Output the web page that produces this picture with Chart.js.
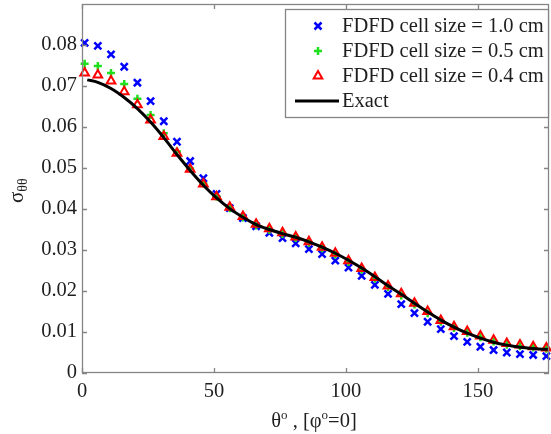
<!DOCTYPE html>
<html>
<head>
<meta charset="utf-8">
<script src="https://cdn.jsdelivr.net/npm/chart.js@4.4.0/dist/chart.umd.min.js"></script>
<style>
  html, body { margin: 0; padding: 0; background: #fff; }
</style>
</head>
<body>
<canvas id="sigmaChart" width="551" height="434"></canvas>
<script>
// углы, где взяты отсчёты FDFD (град)
const thetaFdfd = [1, 6, 11, 16, 21, 26, 31, 36, 41, 46, 51, 56, 61, 66, 71, 76, 81, 86,
                   91, 96, 101, 106, 111, 116, 121, 126, 131, 136, 141, 146, 151, 156, 161, 166, 171, 176];

// FDFD cell size = 1.0 cm
const cell10 = [0.0805, 0.0798, 0.0777, 0.0747, 0.0708, 0.0663, 0.0614, 0.0564, 0.0517, 0.0475, 0.0437, 0.0402,
                0.0378, 0.0358, 0.0342, 0.0329, 0.0316, 0.0302, 0.0290, 0.0274, 0.0257, 0.0237, 0.0215, 0.0193,
                0.0168, 0.0146, 0.0125, 0.0107, 0.0090, 0.0076, 0.0064, 0.0056, 0.0050, 0.0046, 0.0044, 0.0041];

// FDFD cell size = 0.5 cm
const cell05 = [0.0754, 0.0749, 0.0732, 0.0705, 0.0669, 0.0629, 0.0585, 0.0540, 0.0499, 0.0462, 0.0430, 0.0402,
                0.0379, 0.0360, 0.0349, 0.0339, 0.0329, 0.0317, 0.0304, 0.0289, 0.0271, 0.0252, 0.0230, 0.0209,
                0.0189, 0.0167, 0.0146, 0.0125, 0.0110, 0.0098, 0.0087, 0.0077, 0.0069, 0.0065, 0.0062, 0.0059];

// FDFD cell size = 0.4 cm
const cell04 = [0.0732, 0.0727, 0.0712, 0.0686, 0.0654, 0.0617, 0.0577, 0.0536, 0.0497, 0.0461, 0.0430, 0.0404,
                0.0382, 0.0363, 0.0352, 0.0342, 0.0332, 0.0320, 0.0307, 0.0292, 0.0274, 0.0255, 0.0233, 0.0212,
                0.0193, 0.0170, 0.0150, 0.0128, 0.0113, 0.0101, 0.0090, 0.0080, 0.0072, 0.0068, 0.0064, 0.0061];

// точное решение
const thetaExact = [2, 6, 11, 16, 21, 26, 31, 36, 41, 46, 51, 56, 61, 66, 71, 76, 81, 86,
                    91, 96, 101, 106, 111, 116, 121, 126, 131, 136, 141, 146, 151, 156, 161, 166, 171, 176, 177];
const exact = [0.0715, 0.0709, 0.0694, 0.0672, 0.0645, 0.0612, 0.0574, 0.0533, 0.0494, 0.0458, 0.0427, 0.0401,
               0.0380, 0.0362, 0.0350, 0.0340, 0.0331, 0.0320, 0.0307, 0.0292, 0.0275, 0.0256, 0.0235, 0.0213,
               0.0192, 0.0170, 0.0149, 0.0129, 0.0112, 0.0097, 0.0085, 0.0075, 0.0068, 0.0063, 0.0060, 0.0058, 0.0058];

const xTicks = [0, 50, 100, 150];
const yTicks = [0, 0.01, 0.02, 0.03, 0.04, 0.05, 0.06, 0.07, 0.08];
const legendLabels = ['FDFD cell size = 1.0 cm', 'FDFD cell size = 0.5 cm', 'FDFD cell size = 0.4 cm', 'Exact'];

const FONT = '"Liberation Serif", "DejaVu Serif", serif';
const FSIZE = 20.5;
const TEXT = '#1e1e1e';
const FRAME = '#858585';

function pts(xs, ys) {
    return xs.map((x, i) => ({ x: x, y: ys[i] }));
}

// убираем автоматические отступы шкал, чтобы область графика была как в оригинале
function noPad(s) {
    s.paddingTop = 0; s.paddingBottom = 0;
    s.paddingLeft = 0; s.paddingRight = 0;
}

// рамка, внутренние засечки, легенда и подписи осей
const decor = {
    id: 'decor',
    afterDraw(chart) {
        const ctx = chart.ctx;
        const a = chart.chartArea;
        const sx = chart.scales.x, sy = chart.scales.y;
        ctx.save();

        ctx.strokeStyle = FRAME;
        ctx.lineWidth = 1.3;
        ctx.strokeRect(a.left + 0.5, a.top + 0.5, a.right - a.left - 1, a.bottom - a.top - 1);

        ctx.beginPath();
        xTicks.forEach(v => {
            const px = Math.round(sx.getPixelForValue(v)) + 0.5;
            ctx.moveTo(px, a.bottom); ctx.lineTo(px, a.bottom - 5);
            ctx.moveTo(px, a.top); ctx.lineTo(px, a.top + 5);
        });
        yTicks.forEach(v => {
            const py = Math.round(sy.getPixelForValue(v)) + 0.5;
            ctx.moveTo(a.left, py); ctx.lineTo(a.left + 5, py);
            ctx.moveTo(a.right, py); ctx.lineTo(a.right - 5, py);
        });
        ctx.stroke();

        // легенда
        const bx = 285, by = 9, bw = 263, bh = 108;
        ctx.fillStyle = '#fff';
        ctx.fillRect(bx, by, bw, bh);
        ctx.strokeStyle = FRAME;
        ctx.lineWidth = 1.3;
        ctx.strokeRect(bx + 0.5, by + 0.5, bw, bh);

        const rowY = [26, 51, 76, 101];
        const mx = 318;
        // крестик
        ctx.strokeStyle = '#0000ff'; ctx.lineWidth = 2.5;
        ctx.beginPath();
        ctx.moveTo(mx - 3.5, rowY[0] - 3.5); ctx.lineTo(mx + 3.5, rowY[0] + 3.5);
        ctx.moveTo(mx - 3.5, rowY[0] + 3.5); ctx.lineTo(mx + 3.5, rowY[0] - 3.5);
        ctx.stroke();
        // плюс
        ctx.strokeStyle = '#1fe01f';
        ctx.beginPath();
        ctx.moveTo(mx - 4, rowY[1]); ctx.lineTo(mx + 4, rowY[1]);
        ctx.moveTo(mx, rowY[1] - 4); ctx.lineTo(mx, rowY[1] + 4);
        ctx.stroke();
        // треугольник
        ctx.strokeStyle = '#ff0000'; ctx.lineWidth = 2;
        ctx.beginPath();
        ctx.moveTo(mx, rowY[2] - 5);
        ctx.lineTo(mx + 4.3, rowY[2] + 2.5);
        ctx.lineTo(mx - 4.3, rowY[2] + 2.5);
        ctx.closePath();
        ctx.stroke();
        // линия
        ctx.strokeStyle = '#000'; ctx.lineWidth = 3;
        ctx.beginPath();
        ctx.moveTo(295, rowY[3]); ctx.lineTo(339, rowY[3]);
        ctx.stroke();

        ctx.fillStyle = TEXT;
        ctx.font = FSIZE + 'px ' + FONT;
        ctx.textAlign = 'left';
        ctx.textBaseline = 'middle';
        legendLabels.forEach((t, i) => ctx.fillText(t, 342, rowY[i] + 1));

        // подпись оси Y: sigma с индексом
        ctx.save();
        ctx.translate(23, 203);
        ctx.rotate(-Math.PI / 2);
        ctx.textBaseline = 'alphabetic';
        ctx.font = '21px ' + FONT;
        ctx.fillText('σ', 0, 0);
        const sw = ctx.measureText('σ').width;
        ctx.font = '14px ' + FONT;
        ctx.fillText('θθ', sw, 4);
        ctx.restore();

        // подпись оси X
        const parts = [['θ', 0], ['o', 1], [' , [φ', 0], ['o', 1], ['=0]', 0]];
        const big = FSIZE + 'px ' + FONT, small = '13px ' + FONT;
        let total = 0;
        parts.forEach(p => {
            ctx.font = p[1] ? small : big;
            total += ctx.measureText(p[0]).width;
        });
        let x = 314 - total / 2;
        const base = 427;
        ctx.textBaseline = 'alphabetic';
        parts.forEach(p => {
            ctx.font = p[1] ? small : big;
            ctx.fillText(p[0], x, p[1] ? base - 8 : base);
            x += ctx.measureText(p[0]).width;
        });

        ctx.restore();
    }
};

let ctx = document.getElementById('sigmaChart').getContext('2d');
let sigmaChart = new Chart(ctx, {
    type: 'scatter',
    data: {
        datasets: [{
            label: legendLabels[0],
            data: pts(thetaFdfd, cell10),
            pointStyle: 'crossRot',
            pointRadius: 5,
            borderColor: '#0000ff',
            pointBorderWidth: 2.5,
            clip: false,
            order: 3
        }, {
            label: legendLabels[1],
            data: pts(thetaFdfd, cell05),
            pointStyle: 'cross',
            pointRadius: 4,
            borderColor: '#1fe01f',
            pointBorderWidth: 2.5,
            clip: false,
            order: 2
        }, {
            label: legendLabels[2],
            data: pts(thetaFdfd, cell04),
            pointStyle: 'triangle',
            pointRadius: 5,
            borderColor: '#ff0000',
            backgroundColor: 'rgba(255,255,255,0)',
            pointBorderWidth: 2,
            clip: false,
            order: 1
        }, {
            label: legendLabels[3],
            data: pts(thetaExact, exact),
            showLine: true,
            pointRadius: 0,
            borderColor: '#000',
            borderWidth: 3,
            cubicInterpolationMode: 'monotone',
            order: 0
        }]
    },
    options: {
        responsive: false,
        animation: false,
        events: [],
        layout: { autoPadding: false, padding: { top: 4, right: 2, left: 0, bottom: 0 } },
        plugins: {
            legend: { display: false },
            tooltip: { enabled: false }
        },
        scales: {
            x: {
                type: 'linear',
                min: 0,
                max: 177,
                grid: { display: false, drawTicks: false },
                border: { display: false },
                ticks: { font: { family: FONT, size: FSIZE }, color: TEXT, padding: 6, maxRotation: 0 },
                afterBuildTicks: s => { s.ticks = xTicks.map(v => ({ value: v })); },
                afterFit: s => { s.height = 61; noPad(s); }
            },
            y: {
                type: 'linear',
                min: 0,
                max: 0.09,
                grid: { display: false, drawTicks: false },
                border: { display: false },
                ticks: {
                    font: { family: FONT, size: FSIZE },
                    color: TEXT,
                    padding: 5,
                    callback: v => v === 0 ? '0' : v.toFixed(2)
                },
                afterBuildTicks: s => { s.ticks = yTicks.map(v => ({ value: v })); },
                afterFit: s => { s.width = 82; noPad(s); }
            }
        }
    },
    plugins: [decor]
});
</script>
</body>
</html>
